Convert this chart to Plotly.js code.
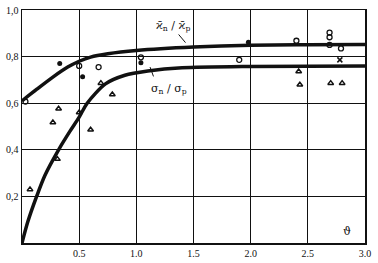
<!DOCTYPE html>
<html><head><meta charset="utf-8">
<script src="https://cdn.plot.ly/plotly-3.0.1.min.js"></script>
<style>html,body{margin:0;padding:0;background:#fff}#c{width:378px;height:263px}</style>
</head><body><div id="c"></div>
<script>
// Curves
const kappaCurveX = [0, 0.13, 0.27, 0.4, 0.5, 0.6, 0.75, 1.0, 1.5, 2.0, 2.5, 3.0];
const kappaCurveY = [0.61, 0.66, 0.712, 0.755, 0.78, 0.798, 0.812, 0.826, 0.841, 0.849, 0.851, 0.852];
const sigmaCurveX = [0, 0.05, 0.128, 0.2, 0.32, 0.42, 0.5, 0.57, 0.73, 0.9, 1.1, 1.4, 2.0, 3.0];
const sigmaCurveY = [0, 0.09, 0.2, 0.29, 0.4, 0.48, 0.54, 0.6, 0.683, 0.72, 0.738, 0.752, 0.758, 0.76];
// Experimental points
const openCircX = [0.03, 0.50, 0.67, 1.04, 1.90, 2.40, 2.69, 2.69, 2.69, 2.79];
const openCircY = [0.607, 0.76, 0.755, 0.797, 0.786, 0.868, 0.85, 0.883, 0.903, 0.835];
const dotX = [0.33, 0.53, 1.04, 1.98];
const dotY = [0.77, 0.714, 0.774, 0.862];
const crossX = [2.78];
const crossY = [0.786];
const triX = [0.07, 0.31, 0.27, 0.32, 0.50, 0.60, 0.69, 0.79, 2.42, 2.43, 2.70, 2.80];
const triY = [0.23, 0.36, 0.517, 0.576, 0.56, 0.486, 0.686, 0.637, 0.736, 0.679, 0.686, 0.686];
// Ticks
const xTickVals = [0.5, 1.0, 1.5, 2.0, 2.5, 3.0];
const xTickText = ["0.5", "1.0", "1.5", "2.0", "2.5", "3.0"];
const yTickVals = [0.2, 0.4, 0.6, 0.8, 1.0];
const yTickText = ["0,2", "0,4", "0,6", "0,8", "1,0"];

const ink = '#111';
const traces = [
  {x: kappaCurveX, y: kappaCurveY, mode: 'lines', line: {color: ink, width: 3.5, shape: 'spline', smoothing: 0.8}, hoverinfo: 'skip'},
  {x: sigmaCurveX, y: sigmaCurveY, mode: 'lines', line: {color: ink, width: 3.5, shape: 'spline', smoothing: 0.8}, hoverinfo: 'skip'},
  {x: openCircX, y: openCircY, mode: 'markers', marker: {symbol: 'circle-open', size: 5, color: ink, line: {width: 1.3}}},
  {x: dotX, y: dotY, mode: 'markers', marker: {symbol: 'circle', size: 5, color: ink}},
  {x: crossX, y: crossY, mode: 'markers', marker: {symbol: 'x-thin-open', size: 5, color: ink, line: {width: 1.5}}},
  {x: triX, y: triY, mode: 'markers', marker: {symbol: 'triangle-up-open', size: 5, color: ink, line: {width: 1.5}}}
];
const tf = {family: 'Liberation Serif, DejaVu Serif, serif', size: 10, color: ink};
const layout = {
  width: 378, height: 263,
  margin: {l: 22, r: 13, t: 10, b: 20},
  paper_bgcolor: '#fff', plot_bgcolor: '#fff',
  showlegend: false,
  xaxis: {range: [0, 3.0], tickvals: xTickVals, ticktext: xTickText, showgrid: true, gridcolor: ink, gridwidth: 1.3,
          zeroline: false, showline: true, linecolor: ink, linewidth: 1.5, mirror: true, ticks: '', tickfont: tf, fixedrange: true},
  yaxis: {range: [0, 1.0], tickvals: yTickVals, ticktext: yTickText, showgrid: true, gridcolor: ink, gridwidth: 1.3,
          zeroline: false, showline: true, linecolor: ink, linewidth: 1.5, mirror: true, ticks: '', tickfont: tf, fixedrange: true},
  shapes: [
    {type: 'line', xref: 'x', yref: 'y', x0: 1.37, y0: 0.895, x1: 1.43, y1: 0.86, line: {color: ink, width: 1}},
    {type: 'line', xref: 'x', yref: 'y', x0: 1.12, y0: 0.755, x1: 1.15, y1: 0.715, line: {color: ink, width: 1}}
  ],
  annotations: [
    {x: 1.32, y: 0.93, xref: 'x', yref: 'y', text: 'ϰ̄<sub>n</sub> / ϰ̄<sub>p</sub>', showarrow: false,
     font: {family: 'DejaVu Serif, serif', size: 11, color: ink}},
    {x: 1.29, y: 0.66, xref: 'x', yref: 'y', text: 'σ<sub>n</sub> / σ<sub>p</sub>', showarrow: false,
     font: {family: 'DejaVu Serif, serif', size: 11, color: ink}},
    {x: 2.84, y: 0.05, xref: 'x', yref: 'y', text: 'ϑ', showarrow: false, font: {family: 'DejaVu Serif, serif', size: 11, color: ink}}
  ]
};
Plotly.newPlot('c', traces, layout, {displayModeBar: false, staticPlot: true});
</script></body></html>
